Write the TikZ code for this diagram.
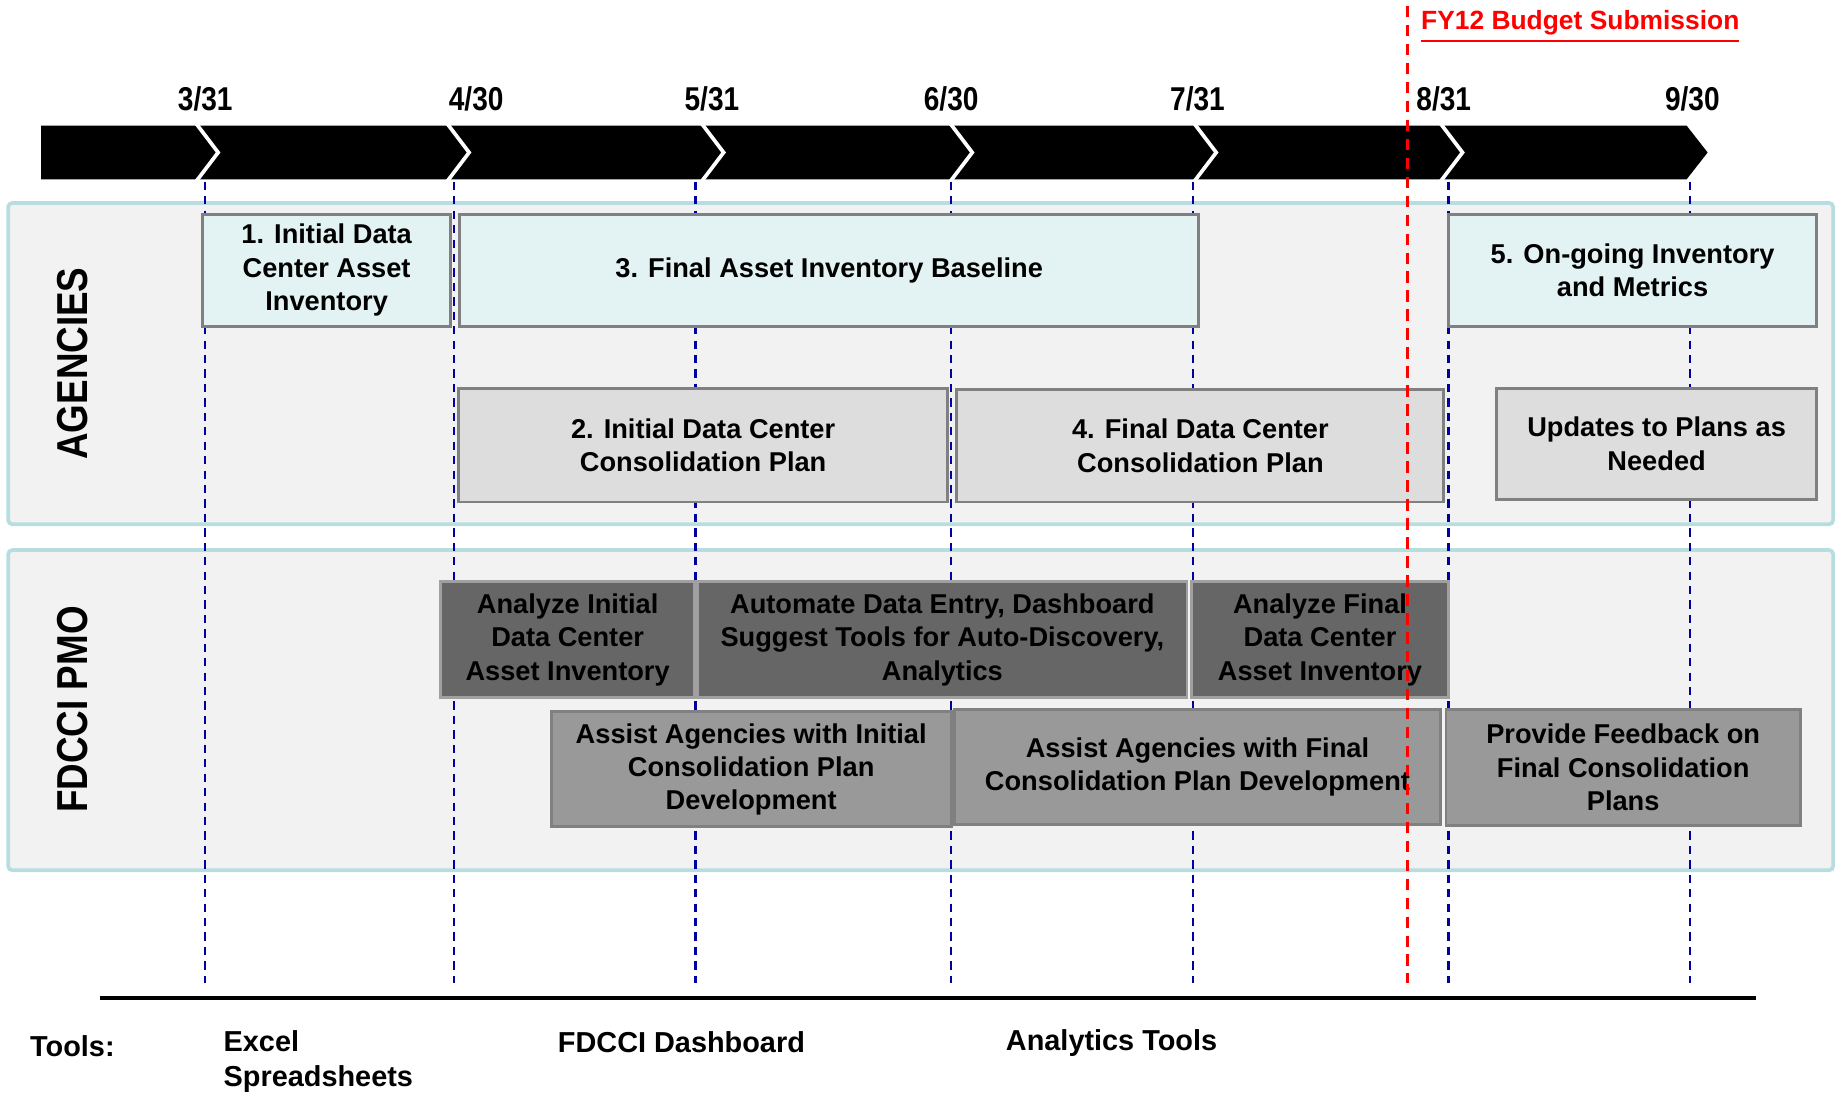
\documentclass[tikz,border=0pt]{standalone}
\usepackage{fontspec}
\setmainfont{Liberation Sans}
\newfontfamily\narrowfamily[FakeStretch=0.85]{Liberation Sans}
\definecolor{panelbg}{RGB}{242,242,242}
\definecolor{panelline}{RGB}{183,221,225}
\definecolor{agencyfill}{RGB}{227,242,243}
\definecolor{planfill}{RGB}{221,221,221}
\definecolor{reviewfill}{RGB}{102,102,102}
\definecolor{reviewline}{RGB}{160,160,160}
\definecolor{assistfill}{RGB}{153,153,153}
\definecolor{boxline}{RGB}{128,128,128}
\definecolor{monthline}{RGB}{0,0,160}
\newcommand{\taskfont}{\bfseries\fontsize{6.6}{8.1}\selectfont}
\newcommand{\monthfont}{\narrowfamily\bfseries\fontsize{8}{9.6}\selectfont}
\newcommand{\lanefont}{\narrowfamily\bfseries\fontsize{10.5}{12}\selectfont}
\newcommand{\toolfont}{\bfseries\fontsize{7}{8.5}\selectfont}
\begin{document}
\begin{tikzpicture}[x=0.01cm, y=-0.01cm]
    \tikzset{
        panel/.style={draw=panelline, fill=panelbg, line width=0.9pt, rounded corners=1pt},
        task/.style={draw=boxline, line width=0.7pt, align=center, inner sep=0pt, font=\taskfont},
        agency/.style={task, fill=agencyfill},
        plan/.style={task, fill=planfill},
        review/.style={task, fill=reviewfill, draw=reviewline},
        assist/.style={task, fill=assistfill},
        month/.style={draw=monthline, line width=0.6pt, dash pattern=on 2pt off 1.5pt},
        budget/.style={draw=red, line width=0.6pt, dash pattern=on 2.8pt off 1.8pt},
        lane/.style={rotate=90, font=\lanefont},
        tool/.style={anchor=west, align=left, inner sep=0pt, font=\toolfont}
    }
    \useasboundingbox (0,0) rectangle (1568,932);

    % lanes
    \draw[panel] (7,173) rectangle (1563,447);
    \draw[panel] (7,469) rectangle (1563,742);
    \node[lane] (agencies) at (62,310) {AGENCIES};
    \node[lane] (pmo) at (62,605) {FDCCI PMO};

    % timeline
    \fill (35,107) -- (1438,107) -- (1456,130) -- (1438,153) -- (35,153) -- cycle;
    \foreach \n in {167,381,598,810,1018,1228}{
        \draw[white, line width=0.9pt] (\n,105) -- (\n+19,130) -- (\n,155);
    }
    \foreach \x/\lx/\m/\d [count=\i] in {%
        175/175/3/31, 387/406/4/30, 593/607/5/31, 811/811/6/30,%
        1017/1021/7/31, 1235/1231/8/31, 1441/1443/9/30%
    }{
        \node[font=\monthfont] (d\i) at (\lx,84) {\m/\d};
        \coordinate (top\i) at (\x,155);
        \coordinate (bot\i) at (\x,838);
        \draw[month] (top\i) -- (bot\i);
    }

    % agencies
    \node[agency, minimum width=2.11cm, minimum height=0.95cm] (inv1) at (278.5,230.5) {1. Initial Data\\Center Asset\\Inventory};
    \node[agency, minimum width=6.30cm, minimum height=0.95cm] (inv3) at (707,230.5) {3. Final Asset Inventory Baseline};
    \node[agency, minimum width=3.14cm, minimum height=0.95cm] (inv5) at (1392,230.5) {5. On-going Inventory\\and Metrics};
    \node[plan, minimum width=4.17cm, minimum height=0.97cm] (plan2) at (599.5,379.5) {2. Initial Data Center\\Consolidation Plan};
    \node[plan, minimum width=4.15cm, minimum height=0.96cm] (plan4) at (1023.5,380) {4. Final Data Center\\Consolidation Plan};
    \node[plan, minimum width=2.73cm, minimum height=0.95cm] (upd) at (1412.5,378.5) {Updates to Plans as\\Needed};

    % pmo
    \node[review, minimum width=2.16cm, minimum height=0.99cm] (ana1) at (484,545.5) {Analyze Initial\\Data Center\\Asset Inventory};
    \node[review, minimum width=4.17cm, minimum height=0.99cm] (auto) at (803.5,545.5) {Automate Data Entry, Dashboard\\Suggest Tools for Auto-Discovery,\\Analytics};
    \node[review, minimum width=2.19cm, minimum height=0.99cm] (ana2) at (1125.5,545.5) {Analyze Final\\Data Center\\Asset Inventory};
    \node[assist, minimum width=3.41cm, minimum height=0.98cm] (help1) at (640.5,656) {Assist Agencies with Initial\\Consolidation Plan\\Development};
    \node[assist, minimum width=4.14cm, minimum height=0.98cm] (help2) at (1021,654) {Assist Agencies with Final\\Consolidation Plan Development};
    \node[assist, minimum width=3.02cm, minimum height=0.99cm] (fb) at (1384,654.5) {Provide Feedback on\\Final Consolidation\\Plans};

    % budget line
    \coordinate (fytop) at (1200,5);
    \coordinate (fybot) at (1200,838);
    \draw[budget] (fytop) -- (fybot);
    \node[anchor=west, inner sep=0pt, text=red, font=\bfseries\fontsize{6.4}{8}\selectfont] (fy) at (1211,23) {\underline{FY12 Budget Submission}};

    % tools
    \coordinate (rulel) at (85,851);
    \coordinate (ruler) at (1497,851);
    \draw[line width=0.8pt] (rulel) -- (ruler);
    \node[tool] (tools) at (25,892) {Tools:};
    \node[tool] (excel) at (190,905) {Excel\\Spreadsheets};
    \node[tool] (dash) at (475,889) {FDCCI Dashboard};
    \node[tool] (analytics) at (857,889) {Analytics Tools};
\end{tikzpicture}
\end{document}
